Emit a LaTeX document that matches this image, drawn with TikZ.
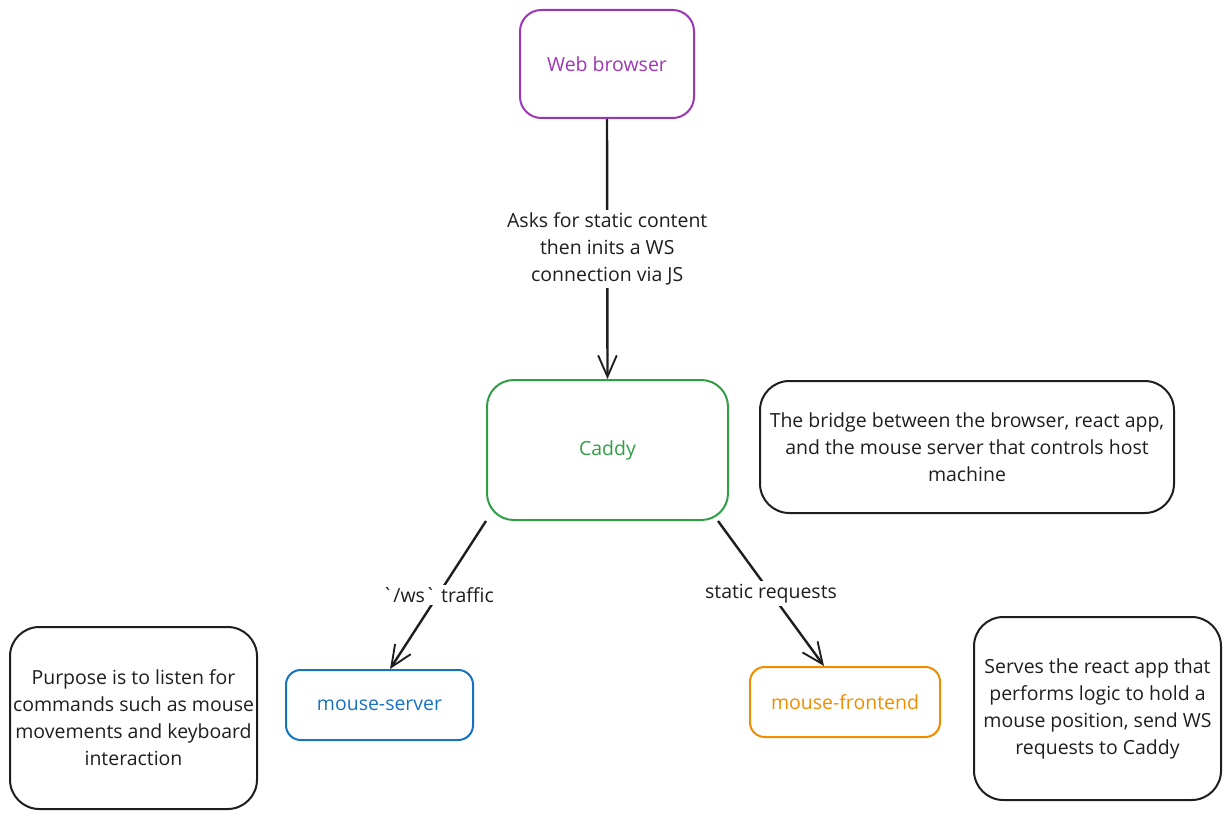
\documentclass[tikz,border=0pt]{standalone}
\usepackage{fontspec}
\setmainfont{Open Sans}[Ligatures=TeXOff]
\usetikzlibrary{arrows.meta}
\definecolor{cviolet}{HTML}{9C36B5}
\definecolor{cgreen}{HTML}{2F9E44}
\definecolor{cblue}{HTML}{1971C2}
\definecolor{corange}{HTML}{F08C00}
\definecolor{cink}{HTML}{1E1E1E}
\tikzset{
  box/.style={draw, line width=1.5pt, rounded corners=16pt, align=center, inner sep=2pt,
    font=\fontsize{14.6}{20.25}\selectfont},
  note/.style={box, draw=cink, text=cink},
  conn/.style={draw=cink, line width=1.8pt, -{Straight Barb[length=16pt,width=14pt,line width=1.4pt]}},
  lbl/.style={fill=white, text=cink, align=center, inner sep=2pt, font=\fontsize{14.6}{20.25}\selectfont},
}
\begin{document}
\begin{tikzpicture}[x=0.75pt,y=-0.75pt]
\useasboundingbox (0,0) rectangle (1231,820);
\node[box, draw=cviolet, text=cviolet, minimum width=130.5pt, minimum height=81pt] (web) at (607,64) {Web browser};
\node[box, draw=cgreen, text=cgreen, minimum width=180.75pt, minimum height=105pt, rounded corners=20pt] (caddy) at (607.5,450) {Caddy};
\node[note, minimum width=310.5pt, minimum height=99pt, rounded corners=22pt] (bridge) at (967,447) {The bridge between the browser, react app,\\and the mouse server that controls host\\machine};
\node[box, draw=cblue, text=cblue, minimum width=140.25pt, minimum height=52.5pt, rounded corners=11pt] (mserver) at (379.5,705) {mouse-server};
\node[box, draw=corange, text=corange, minimum width=142.5pt, minimum height=52.5pt, rounded corners=11pt] (mfront) at (845,702) {mouse-frontend};
\node[note, minimum width=185.25pt, minimum height=136.5pt, rounded corners=22pt] (purpose) at (133.5,718) {Purpose is to listen for\\commands such as mouse\\movements and keyboard\\interaction};
\node[note, minimum width=185.25pt, minimum height=137.25pt, rounded corners=22pt] (serves) at (1097.5,708.5) {Serves the react app that\\performs logic to hold a\\mouse position, send WS\\requests to Caddy};
\draw[conn] (web.south) -- node[lbl] {Asks for static content\\then inits a WS\\connection via JS} (caddy.north);
\draw[conn] (caddy.south west) -- node[lbl] {`/ws` traffic} ([xshift=7.9pt]mserver.north);
\draw[conn] ([xshift=-8.25pt]caddy.south east) -- node[lbl] {static requests} ([xshift=-15.75pt]mfront.north);
\end{tikzpicture}
\end{document}
